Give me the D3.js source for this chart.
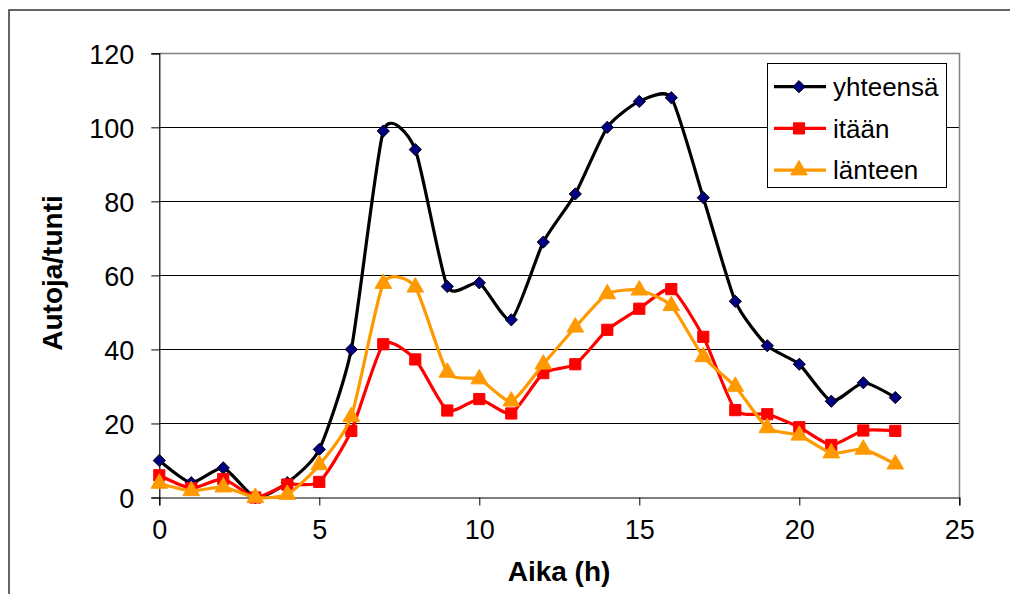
<!DOCTYPE html>
<html>
<head>
<meta charset="utf-8">
<script src="https://cdn.jsdelivr.net/npm/d3@7"></script>
<style>
  html, body { margin: 0; padding: 0; background: #fff; }
  svg { display: block; font-family: Arial, "Liberation Sans", sans-serif; }
</style>
</head>
<body>
<svg id="chart" width="1010" height="594"></svg>
<script>
// Hourly traffic counts (cars per hour)
const hours = [0,1,2,3,4,5,6,7,8,9,10,11,12,13,14,15,16,17,18,19,20,21,22,23];
const yhteensa = [10,4,8,0,4,13,40,99,94,57,58,48,69,82,100,107,108,81,53,41,36,26,31,27];
const itaan    = [6,2.5,5,0,3.5,4.2,18,41.4,37.3,23.5,26.6,22.7,33.6,36,45.3,51,56.3,43.4,23.6,22.5,19,14.2,18.1,18];
const lanteen  = [3.8,1.8,2.8,0,0.8,8.8,21.8,57.8,56.8,33.8,32,26,36,46,55,56,51.8,38,30,18.8,16.8,12,13,9];

const xTicks = [0,5,10,15,20,25];
const yTicks = [0,20,40,60,80,100,120];
const seriesNames = ["yhteensä","itään","länteen"];

const svg = d3.select("#chart");

// Outer chart frame (right and bottom edges fall outside the view)
svg.append("rect")
  .attr("x", 9).attr("y", 10).attr("width", 1100).attr("height", 700)
  .attr("fill", "#fff").attr("stroke", "#333").attr("stroke-width", 1.5);

const x = d3.scaleLinear().domain([0, 25]).range([159.3, 959.3]);
const y = d3.scaleLinear().domain([0, 120]).range([497.5, 53.3]);

// Horizontal gridlines
svg.append("g").selectAll("line")
  .data(yTicks.filter(v => v > 0 && v < 120))
  .join("line")
  .attr("x1", x(0)).attr("x2", x(25))
  .attr("y1", d => Math.round(y(d)) + 0.5).attr("y2", d => Math.round(y(d)) + 0.5)
  .attr("stroke", "#000").attr("stroke-width", 1);

// Plot area border top/right
svg.append("path")
  .attr("d", `M${x(0)},${Math.round(y(120)) + 0.5}H${Math.round(x(25)) + 0.5}V${y(0)}`)
  .attr("fill", "none").attr("stroke", "#808080").attr("stroke-width", 1.5);

// Y axis
const yAxis = svg.append("g")
  .attr("transform", `translate(${x(0)},0)`)
  .call(d3.axisLeft(y).tickValues(yTicks).tickSize(8).tickPadding(17).tickFormat(d3.format("d")));
yAxis.select(".domain").attr("stroke", "#000").attr("stroke-width", 1.2);
yAxis.selectAll(".tick line").attr("stroke", "#000");
yAxis.selectAll(".tick text").attr("font-size", 27).attr("fill", "#000")
  .attr("font-family", "Arial, 'Liberation Sans', sans-serif").attr("dy", "0.36em");

// X axis
const xAxis = svg.append("g")
  .attr("transform", `translate(0,${y(0)})`)
  .call(d3.axisBottom(x).tickValues(xTicks).tickSize(8).tickPadding(14).tickFormat(d3.format("d")));
xAxis.select(".domain").attr("stroke", "#000").attr("stroke-width", 1.2);
xAxis.selectAll(".tick line").attr("stroke", "#000");
xAxis.selectAll(".tick text").attr("font-size", 27).attr("fill", "#000")
  .attr("font-family", "Arial, 'Liberation Sans', sans-serif");

// Axis titles
svg.append("text")
  .attr("x", 559).attr("y", 581)
  .attr("text-anchor", "middle").attr("font-size", 28).attr("font-weight", "bold")
  .text("Aika (h)");
svg.append("text")
  .attr("transform", "translate(62,273) rotate(-90)")
  .attr("text-anchor", "middle").attr("font-size", 28).attr("font-weight", "bold")
  .text("Autoja/tunti");

// Marker symbols
const markerDefs = [
  { type: d3.symbolDiamond2, size: 95, fill: "#000080", stroke: "#000", sw: 1 },
  { type: d3.symbolSquare, size: 125, fill: "#ff0000", stroke: "#ff0000", sw: 1 },
  { type: d3.symbolTriangle, size: 120, fill: "#ff9900", stroke: "#ff9900", sw: 1 }
];
const lineColors = ["#000000", "#ff0000", "#ff9900"];
const allSeries = [yhteensa, itaan, lanteen];

const line = d3.line()
  .x((d, i) => x(hours[i]))
  .y(d => y(d))
  .curve(d3.curveCardinal.tension(0.4));

allSeries.forEach((vals, k) => {
  const g = svg.append("g");
  g.append("path")
    .datum(vals)
    .attr("d", line)
    .attr("fill", "none")
    .attr("stroke", lineColors[k])
    .attr("stroke-width", 3.2)
    .attr("stroke-linejoin", "round");
  const m = markerDefs[k];
  g.selectAll("path.mark")
    .data(vals)
    .join("path")
    .attr("class", "mark")
    .attr("transform", (d, i) => `translate(${x(hours[i])},${y(d)})`)
    .attr("d", d3.symbol().type(m.type).size(m.size))
    .attr("fill", m.fill).attr("stroke", m.stroke).attr("stroke-width", m.sw);
});

// Legend
const legend = svg.append("g");
legend.append("rect")
  .attr("x", 767.5).attr("y", 63.5).attr("width", 179).attr("height", 124)
  .attr("fill", "#fff").attr("stroke", "#000").attr("stroke-width", 1);
seriesNames.forEach((name, k) => {
  const cy = 86.7 + k * 41.7;
  legend.append("line")
    .attr("x1", 774).attr("x2", 826).attr("y1", cy).attr("y2", cy)
    .attr("stroke", lineColors[k]).attr("stroke-width", 3.2);
  const m = markerDefs[k];
  legend.append("path")
    .attr("transform", `translate(799,${cy})`)
    .attr("d", d3.symbol().type(m.type).size(m.size))
    .attr("fill", m.fill).attr("stroke", m.stroke).attr("stroke-width", m.sw);
  legend.append("text")
    .attr("x", 833).attr("y", cy).attr("dy", "0.36em")
    .attr("font-size", 26).attr("fill", "#000")
    .text(name);
});
</script>
</body>
</html>
